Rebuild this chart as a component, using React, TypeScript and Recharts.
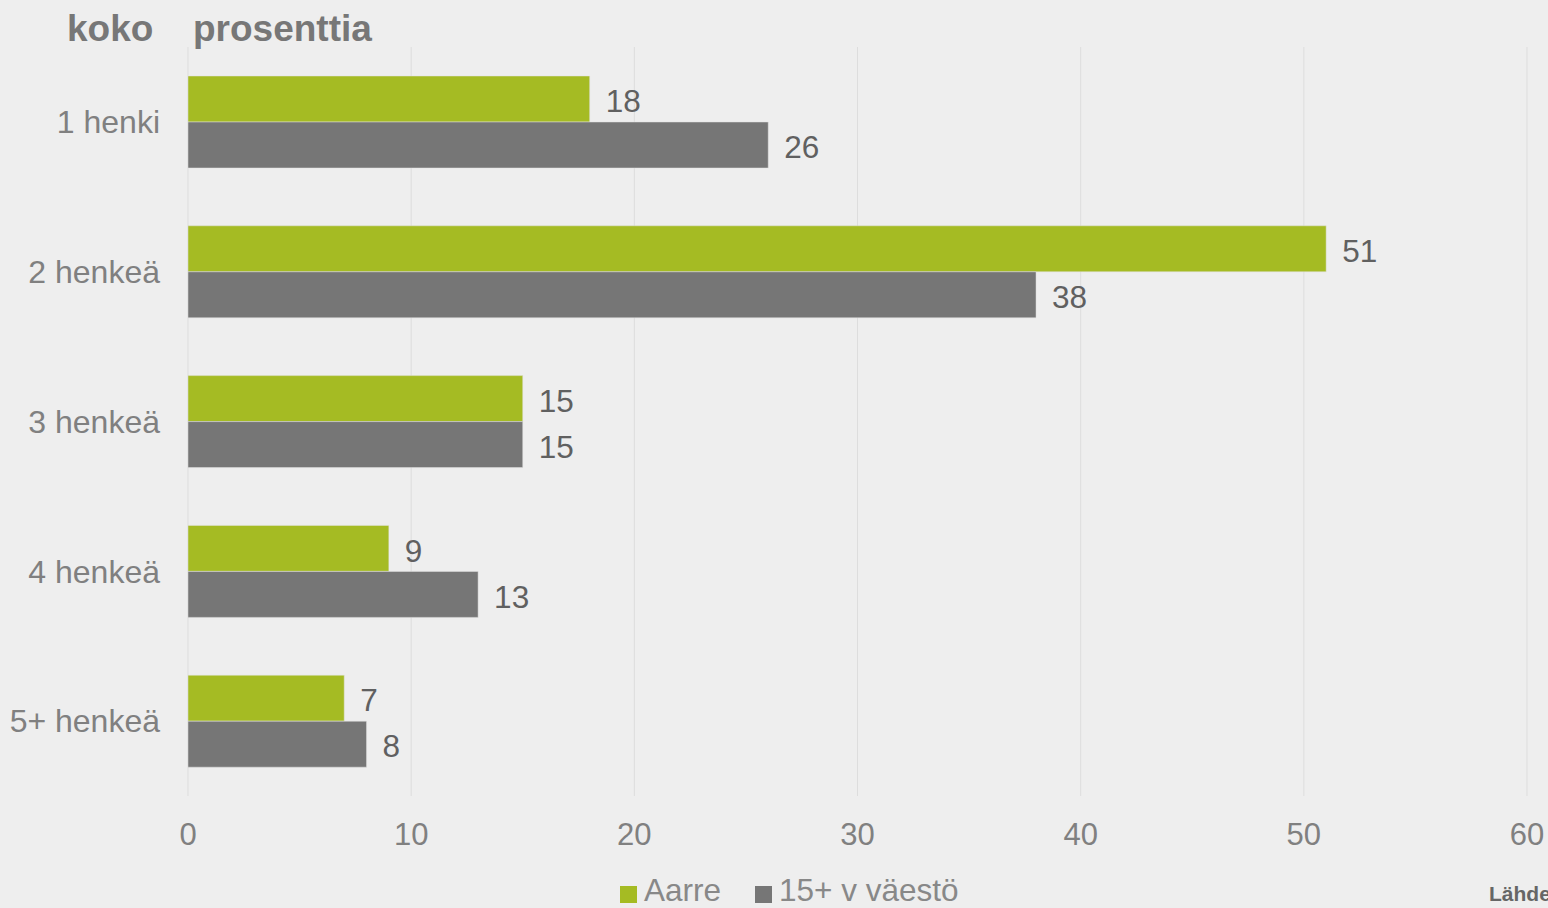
import { BarChart, Bar, XAxis, YAxis, CartesianGrid, LabelList } from 'recharts';

const categories = ['1 henki', '2 henkeä', '3 henkeä', '4 henkeä', '5+ henkeä'];
const aarreValues = [18, 51, 15, 9, 7];
const populationValues = [26, 38, 15, 13, 8];
const xTicks = [0, 10, 20, 30, 40, 50, 60];

const seriesNames = { aarre: 'Aarre', population: '15+ v väestö' };
const colors = { aarre: '#a5bb23', population: '#767676' };

const data = categories.map((name, i) => ({
  name,
  aarre: aarreValues[i],
  population: populationValues[i],
}));

function ChartLegend() {
  const items = [
    { key: 'aarre', label: seriesNames.aarre, color: colors.aarre },
    { key: 'population', label: seriesNames.population, color: colors.population },
  ];
  return (
    <div style={{ position: 'absolute', left: 620, top: 875, display: 'flex', alignItems: 'center' }}>
      {items.map((it, i) => (
        <div key={it.key} style={{ display: 'flex', alignItems: 'center', marginRight: i === 0 ? 34 : 0 }}>
          <span style={{ display: 'inline-block', width: 17, height: 17, background: it.color, marginRight: 7, marginTop: 7 }} />
          <span style={{ fontSize: 31.5, lineHeight: '31px', color: '#888888', whiteSpace: 'nowrap' }}>{it.label}</span>
        </div>
      ))}
    </div>
  );
}

export default function App() {
  return (
    <div
      style={{
        position: 'absolute',
        left: 0,
        top: 0,
        width: 1548,
        height: 908,
        background: '#eeeeee',
        overflow: 'hidden',
        fontFamily: '"Liberation Sans", Arial, sans-serif',
      }}
    >
      <div style={{ position: 'absolute', left: 67, top: 10, fontSize: 37, lineHeight: '37px', fontWeight: 'bold', color: '#777777' }}>
        koko
      </div>
      <div style={{ position: 'absolute', left: 193, top: 10, fontSize: 37, lineHeight: '37px', fontWeight: 'bold', color: '#777777' }}>
        prosenttia
      </div>
      <BarChart
        width={1548}
        height={908}
        data={data}
        layout="vertical"
        margin={{ top: 47, right: 21, bottom: 0, left: 0 }}
        barGap={0}
        barSize={46}
      >
        <CartesianGrid horizontal={false} stroke="#dddddd" />
        <XAxis
          type="number"
          domain={[0, 60]}
          ticks={xTicks}
          axisLine={false}
          tickLine={false}
          tickSize={0}
          tickMargin={27}
          interval={0}
          height={112}
          tick={{ fontSize: 31, fill: '#808080' }}
        />
        <YAxis
          type="category"
          dataKey="name"
          width={188}
          axisLine={false}
          tickLine={false}
          tickSize={0}
          tickMargin={28}
          tick={{ fontSize: 32, fill: '#808080' }}
        />
        <Bar dataKey="aarre" name={seriesNames.aarre} fill={colors.aarre} stroke="#e2e2e2" strokeWidth={0.5} isAnimationActive={false}>
          <LabelList dataKey="aarre" position="right" offset={16} dy={2} style={{ fontSize: 31.5, fill: '#606060' }} />
        </Bar>
        <Bar dataKey="population" name={seriesNames.population} fill={colors.population} stroke="#e2e2e2" strokeWidth={0.5} isAnimationActive={false}>
          <LabelList dataKey="population" position="right" offset={16} dy={2} style={{ fontSize: 31.5, fill: '#606060' }} />
        </Bar>
      </BarChart>
      <ChartLegend />
      <div style={{ position: 'absolute', left: 1489, top: 883, fontSize: 21, lineHeight: '21px', fontWeight: 'bold', color: '#666666', whiteSpace: 'nowrap' }}>
        Lähde
      </div>
    </div>
  );
}
